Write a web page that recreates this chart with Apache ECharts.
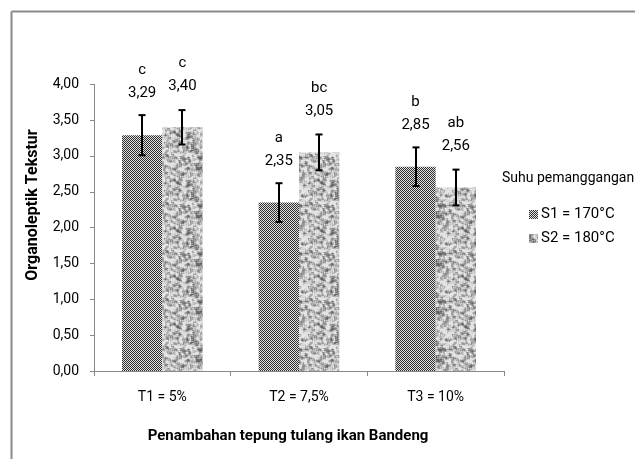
<!DOCTYPE html>
<html><head><meta charset="utf-8">
<script src="https://cdn.jsdelivr.net/npm/echarts@6/dist/echarts.min.js"></script>
<style>html,body{margin:0;padding:0;background:#fff}#c{width:635px;height:459px}</style>
</head><body><div id="c"></div>
<script>
var categories = ['T1 = 5%', 'T2 = 7,5%', 'T3 = 10%'];
var seriesNames = ['S1 = 170°C', 'S2 = 180°C'];
var s1Values = [3.29, 2.35, 2.85];
var s2Values = [3.40, 3.05, 2.56];
var s1Err = [0.28, 0.27, 0.27];
var s2Err = [0.24, 0.25, 0.25];
var s1Letters = ['c', 'a', 'b'];
var s2Letters = ['c', 'bc', 'ab'];
var yTicks = [0, 0.5, 1, 1.5, 2, 2.5, 3, 3.5, 4];

var FONT = "Roboto,'Noto Sans',sans-serif";

// textures (style only, deterministic)
function checker() {
  var c = document.createElement('canvas'); c.width = 2; c.height = 2;
  var g = c.getContext('2d');
  g.fillStyle = '#e2e2e2'; g.fillRect(0, 0, 2, 2);
  g.fillStyle = '#2e2e2e'; g.fillRect(0, 0, 1, 1); g.fillRect(1, 1, 1, 1);
  return c;
}
function mottled() {
  var n = 48;
  var c = document.createElement('canvas'); c.width = n; c.height = n;
  var g = c.getContext('2d');
  var img = g.createImageData(n, n);
  function h(x, y) { var s = Math.sin(x * 12.9898 + y * 78.233) * 43758.5453; return s - Math.floor(s); }
  for (var y = 0; y < n; y++) for (var x = 0; x < n; x++) {
    var v = 0;
    for (var dy = -1; dy <= 1; dy++) for (var dx = -1; dx <= 1; dx++) v += h((x + dx + n) % n, (y + dy + n) % n);
    v /= 9;
    var g2 = Math.round(100 + (v - 0.3) * 420);
    g2 = Math.max(100, Math.min(228, g2));
    var i = (y * n + x) * 4;
    img.data[i] = g2; img.data[i + 1] = g2; img.data[i + 2] = g2; img.data[i + 3] = 255;
  }
  g.putImageData(img, 0, 0);
  return c;
}
var pat1 = { image: checker(), repeat: 'repeat' };
var pat2 = { image: mottled(), repeat: 'repeat' };

var chart = echarts.init(document.getElementById('c'));

function labelFor(letters) {
  return {
    show: true, position: 'top', distance: 30,
    formatter: function (p) { return letters[p.dataIndex] + '\n' + p.value.toFixed(2).replace('.', ','); },
    fontFamily: FONT, fontSize: 15, color: '#000', lineHeight: 23
  };
}

function errSeries(values, errs, sign) {
  return {
    type: 'custom',
    data: values.map(function (v, i) { return [i, v - errs[i], v + errs[i]]; }),
    z: 10,
    renderItem: function (params, api) {
      var i = api.value(0);
      var band = api.size([1, 0])[0];
      var barW = band * 0.59 / 2;
      var lo = api.coord([i, api.value(1)]);
      var hi = api.coord([i, api.value(2)]);
      var x = Math.round(lo[0] + sign * barW / 2);
      var cap = 3.5;
      var st = { stroke: '#000', lineWidth: 2 };
      return { type: 'group', children: [
        { type: 'line', shape: { x1: x, y1: lo[1], x2: x, y2: hi[1] }, style: st },
        { type: 'line', shape: { x1: x - cap, y1: lo[1], x2: x + cap, y2: lo[1] }, style: st },
        { type: 'line', shape: { x1: x - cap, y1: hi[1], x2: x + cap, y2: hi[1] }, style: st }
      ] };
    },
    silent: true
  };
}

chart.setOption({
  backgroundColor: '#fff',
  animation: false,
  grid: { left: 94, right: 131, top: 84.3, bottom: 88 },
  title: {
    text: 'Suhu pemanggangan', left: 497, top: 166,
    textStyle: { fontFamily: FONT, fontSize: 14, fontWeight: 'normal', color: '#000' }
  },
  legend: {
    orient: 'vertical', left: 524, top: 202, itemGap: 9,
    itemWidth: 9, itemHeight: 9, icon: 'rect',
    data: seriesNames,
    textStyle: { fontFamily: FONT, fontSize: 15, color: '#000', padding: [0, 0, 0, -2] }
  },
  xAxis: {
    type: 'category', data: categories,
    axisLine: { lineStyle: { color: '#888', width: 1 } },
    axisTick: { show: true, length: 5, lineStyle: { color: '#888' } },
    axisLabel: { fontFamily: FONT, fontSize: 14, color: '#000', margin: 19 }
  },
  yAxis: {
    type: 'value', min: 0, max: 4, interval: 0.5,
    splitLine: { show: false },
    axisLine: { show: true, lineStyle: { color: '#888', width: 1 } },
    axisTick: { show: true, length: 4, lineStyle: { color: '#888' } },
    axisLabel: {
      fontFamily: FONT, fontSize: 14, color: '#000', margin: 15,
      formatter: function (v) { return v.toFixed(2).replace('.', ','); }
    }
  },
  graphic: [
    { type: 'line', shape: { x1: 11.5, y1: 11.5, x2: 635, y2: 11.5 }, style: { stroke: '#8a8a8a', lineWidth: 2 } },
    { type: 'line', shape: { x1: 11.5, y1: 11.5, x2: 11.5, y2: 459 }, style: { stroke: '#8a8a8a', lineWidth: 2 } },
    { type: 'text', x: 288, y: 436, style: { text: 'Penambahan tepung tulang ikan Bandeng', font: "bold 15px " + FONT, fill: '#000', textAlign: 'center', textVerticalAlign: 'middle' } },
    { type: 'text', rotation: Math.PI / 2, x: 33, y: 205, style: { text: 'Organoleptik Tekstur', font: "bold 16px " + FONT, fill: '#000', textAlign: 'center', textVerticalAlign: 'middle' } }
  ],
  series: [
    { name: seriesNames[0], type: 'bar', data: s1Values, barGap: '0%', barCategoryGap: '41%',
      itemStyle: { color: pat1 }, label: labelFor(s1Letters) },
    { name: seriesNames[1], type: 'bar', data: s2Values, barGap: '0%', barCategoryGap: '41%',
      itemStyle: { color: pat2 }, label: labelFor(s2Letters) },
    errSeries(s1Values, s1Err, -1),
    errSeries(s2Values, s2Err, 1)
  ]
});
</script></body></html>
